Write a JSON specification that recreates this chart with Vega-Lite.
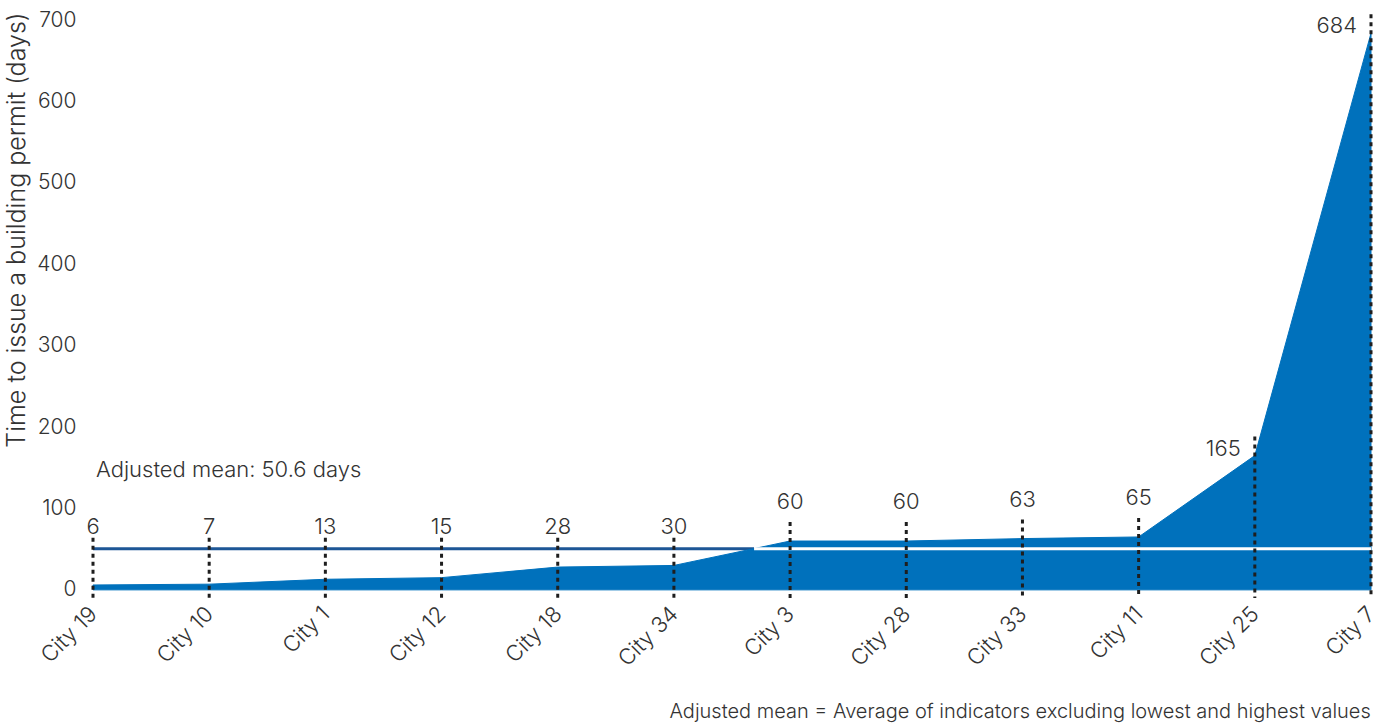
{
  "$schema": "https://vega.github.io/schema/vega-lite/v6.json",
  "width": 1278,
  "height": 586,
  "autosize": {"type": "none"},
  "padding": {"left": 93, "top": 12, "right": 16, "bottom": 126},
  "background": "white",
  "config": {
    "font": "Inter",
    "view": {"stroke": null}
  },
  "title": {
    "text": "Adjusted mean = Average of indicators excluding lowest and highest values",
    "orient": "bottom",
    "anchor": "end",
    "fontSize": 20,
    "fontWeight": 300,
    "color": "#333333",
    "font": "Inter",
    "offset": 32,
    "dx": -8
  },
  "data": {
    "values": [
      {"city": "City 19", "rank": 0, "days": 6, "adjusted_mean": 50.6},
      {"city": "City 10", "rank": 1, "days": 7, "adjusted_mean": 50.6},
      {"city": "City 1", "rank": 2, "days": 13, "adjusted_mean": 50.6},
      {"city": "City 12", "rank": 3, "days": 15, "adjusted_mean": 50.6},
      {"city": "City 18", "rank": 4, "days": 28, "adjusted_mean": 50.6},
      {"city": "City 34", "rank": 5, "days": 30, "adjusted_mean": 50.6},
      {"city": "City 3", "rank": 6, "days": 60, "adjusted_mean": 50.6},
      {"city": "City 28", "rank": 7, "days": 60, "adjusted_mean": 50.6},
      {"city": "City 33", "rank": 8, "days": 63, "adjusted_mean": 50.6},
      {"city": "City 11", "rank": 9, "days": 65, "adjusted_mean": 50.6},
      {"city": "City 25", "rank": 10, "days": 165, "adjusted_mean": 50.6},
      {"city": "City 7", "rank": 11, "days": 684, "adjusted_mean": 50.6}
    ]
  },
  "layer": [
    {
      "data": {"values": [{"start": 0, "end": 5.69, "adjusted_mean": 50.6}]},
      "mark": {"type": "rule", "color": "#1d5696", "strokeWidth": 3},
      "encoding": {
        "x": {"field": "start", "type": "quantitative"},
        "x2": {"field": "end"},
        "y": {"field": "adjusted_mean", "type": "quantitative"}
      }
    },
    {
      "mark": {"type": "area", "color": "#0071bc", "stroke": "#0071bc", "strokeWidth": 1, "interpolate": "linear"},
      "encoding": {
        "x": {"field": "rank", "type": "quantitative", "scale": {"domain": [0, 11], "nice": false, "zero": false},
          "axis": {
            "values": [0, 1, 2, 3, 4, 5, 6, 7, 8, 9, 10, 11],
            "labelExpr": "['City 19','City 10','City 1','City 12','City 18','City 34','City 3','City 28','City 33','City 11','City 25','City 7'][datum.value]",
            "labelAngle": -45,
            "labelAlign": "right",
            "labelBaseline": "middle",
            "labelFontSize": 22,
            "labelFontWeight": 300,
            "labelColor": "#333333",
            "labelPadding": 12,
            "labelOverlap": false,
            "labelBound": false,
            "labelFlush": false,
            "domain": false,
            "ticks": false,
            "grid": false,
            "title": null
          }},
        "y": {"field": "days", "type": "quantitative", "scale": {"domain": [-10, 710], "nice": false, "zero": false},
          "axis": {
            "values": [0, 100, 200, 300, 400, 500, 600, 700],
            "labelFontSize": 21,
            "labelFontWeight": 300,
            "labelColor": "#333333",
            "labelPadding": 17,
            "domain": false,
            "ticks": false,
            "grid": false,
            "title": "Time to issue a building permit (days)",
            "titleFontSize": 25,
            "titleFontWeight": 300,
            "titleColor": "#333333",
            "titleAnchor": "end",
            "titlePadding": 7
          }}
      }
    },
    {
      "data": {"values": [{"start": 5.69, "end": 11, "adjusted_mean": 50.6}]},
      "mark": {"type": "rule", "color": "#ffffff", "strokeWidth": 3},
      "encoding": {
        "x": {"field": "start", "type": "quantitative"},
        "x2": {"field": "end"},
        "y": {"field": "adjusted_mean", "type": "quantitative"}
      }
    },
    {
      "transform": [{"filter": "datum.days < datum.adjusted_mean"}],
      "mark": {"type": "rule", "color": "#1e1e1e", "strokeWidth": 3, "strokeDash": [4, 4], "yOffset": -11},
      "encoding": {
        "x": {"field": "rank", "type": "quantitative"},
        "y": {"field": "adjusted_mean", "type": "quantitative"},
        "y2": {"value": "height"}
      }
    },
    {
      "transform": [{"filter": "datum.days >= datum.adjusted_mean"}],
      "mark": {"type": "rule", "color": "#1e1e1e", "strokeWidth": 3, "strokeDash": [4, 4], "yOffset": -19},
      "encoding": {
        "x": {"field": "rank", "type": "quantitative"},
        "y": {"field": "days", "type": "quantitative"},
        "y2": {"value": "height"}
      }
    },
    {
      "transform": [{"filter": "datum.days < datum.adjusted_mean"}],
      "mark": {"type": "text", "fontSize": 22, "fontWeight": 300, "color": "#333333", "align": "center", "baseline": "alphabetic", "dy": -15},
      "encoding": {
        "x": {"field": "rank", "type": "quantitative"},
        "y": {"field": "adjusted_mean", "type": "quantitative"},
        "text": {"field": "days", "type": "quantitative"}
      }
    },
    {
      "transform": [{"filter": "datum.days >= datum.adjusted_mean && datum.days < 100"}],
      "mark": {"type": "text", "fontSize": 22, "fontWeight": 300, "color": "#333333", "align": "center", "baseline": "alphabetic", "dy": -32},
      "encoding": {
        "x": {"field": "rank", "type": "quantitative"},
        "y": {"field": "days", "type": "quantitative"},
        "text": {"field": "days", "type": "quantitative"}
      }
    },
    {
      "transform": [{"filter": "datum.days >= 100"}],
      "mark": {"type": "text", "fontSize": 22, "fontWeight": 300, "color": "#333333", "align": "right", "baseline": "middle", "dx": -14, "dy": -7},
      "encoding": {
        "x": {"field": "rank", "type": "quantitative"},
        "y": {"field": "days", "type": "quantitative"},
        "text": {"field": "days", "type": "quantitative"}
      }
    },
    {
      "data": {"values": [{"label": "Adjusted mean: 50.6 days", "start": 0, "adjusted_mean": 50.6}]},
      "mark": {"type": "text", "fontSize": 22, "fontWeight": 300, "color": "#333333", "align": "left", "baseline": "middle", "dx": 3, "dy": -79},
      "encoding": {
        "x": {"field": "start", "type": "quantitative"},
        "y": {"field": "adjusted_mean", "type": "quantitative"},
        "text": {"field": "label", "type": "nominal"}
      }
    }
  ]
}
